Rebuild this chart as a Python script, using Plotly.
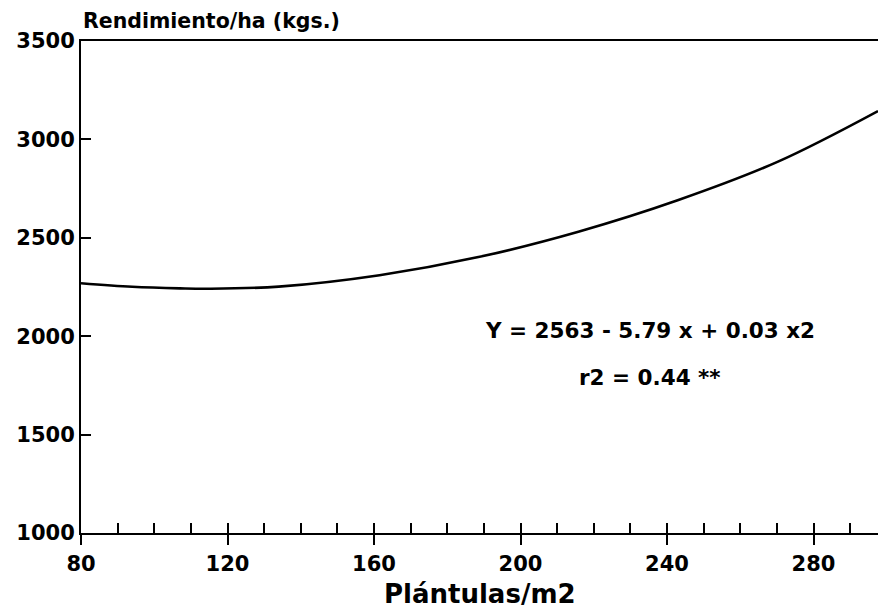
import plotly.graph_objects as go

# Values
plantulas = [80, 94, 107, 115, 134, 161.5, 188.5, 215.8, 243.1, 270.3, 297.6]
rendimiento = [2269, 2251, 2243, 2241, 2252, 2310, 2402, 2531, 2692, 2887, 3144]

x_ticks = [80, 120, 160, 200, 240, 280]
y_ticks = [1000, 1500, 2000, 2500, 3000, 3500]

x_range = [80, 297.6]
y_range = [1000, 3500]

equation_text = "Y = 2563 - 5.79 x + 0.03 x2"
r2_text = "r2 = 0.44 **"
y_title = "Rendimiento/ha (kgs.)"
x_title = "Plántulas/m2"

FONT = "DejaVu Sans"

fig = go.Figure()
fig.add_trace(go.Scatter(
    x=plantulas, y=rendimiento, mode="lines",
    line=dict(color="black", width=2.6, shape="spline", smoothing=1.0),
    showlegend=False, hoverinfo="skip",
))
# invisible trace to anchor the inside minor-tick axis
fig.add_trace(go.Scatter(x=x_range, y=y_range, xaxis="x2", mode="markers",
                         marker=dict(opacity=0), showlegend=False, hoverinfo="skip"))

fig.update_layout(
    width=879, height=614,
    margin=dict(l=81, r=1, t=41, b=81),
    paper_bgcolor="white", plot_bgcolor="white",
    font=dict(family=FONT, color="black"),
    xaxis=dict(
        range=x_range, tickvals=x_ticks, ticktext=[str(v) for v in x_ticks],
        ticks="outside", ticklen=10, tickwidth=1.5, tickcolor="black",
        showline=True, linecolor="black", linewidth=2, mirror=True,
        showgrid=False, zeroline=False,
        tickfont=dict(family=FONT, size=21, color="black", weight="bold"),
        ticklabelstandoff=1,
    ),
    xaxis2=dict(
        range=x_range, overlaying="x", side="bottom", anchor="y",
        dtick=10, tick0=80, ticks="inside", ticklen=10, tickwidth=1.5, tickcolor="black",
        showticklabels=False, showgrid=False, zeroline=False, showline=False,
    ),
    yaxis=dict(
        range=y_range, tickvals=y_ticks, ticktext=[str(v) for v in y_ticks],
        ticks="inside", ticklen=10, tickwidth=1.5, tickcolor="black",
        showline=True, linecolor="black", linewidth=2,
        showgrid=False, zeroline=False,
        tickfont=dict(family=FONT, size=21, color="black", weight="bold"),
    ),
    annotations=[
        dict(text=y_title, xref="paper", yref="paper", x=0, y=1,
             xanchor="left", yanchor="middle", yshift=20, showarrow=False,
             font=dict(family=FONT, size=20.5, color="black", weight="bold")),
        dict(text=x_title, xref="paper", yref="paper", x=0.5, y=0,
             xanchor="center", yanchor="middle", yshift=-61, showarrow=False,
             font=dict(family=FONT, size=26, color="black", weight="bold")),
        dict(text=equation_text, xref="x", yref="y", x=235.3, y=2031,
             xanchor="center", yanchor="middle", showarrow=False,
             font=dict(family=FONT, size=21.5, color="black", weight="bold")),
        dict(text=r2_text, xref="x", yref="y", x=235.3, y=1788,
             xanchor="center", yanchor="middle", showarrow=False,
             font=dict(family=FONT, size=21.5, color="black", weight="bold")),
    ],
)

fig.write_html(
    "out.html",
    config={"displayModeBar": False},
    post_script="document.body.style.margin='0';document.body.style.overflow='hidden';",
)
